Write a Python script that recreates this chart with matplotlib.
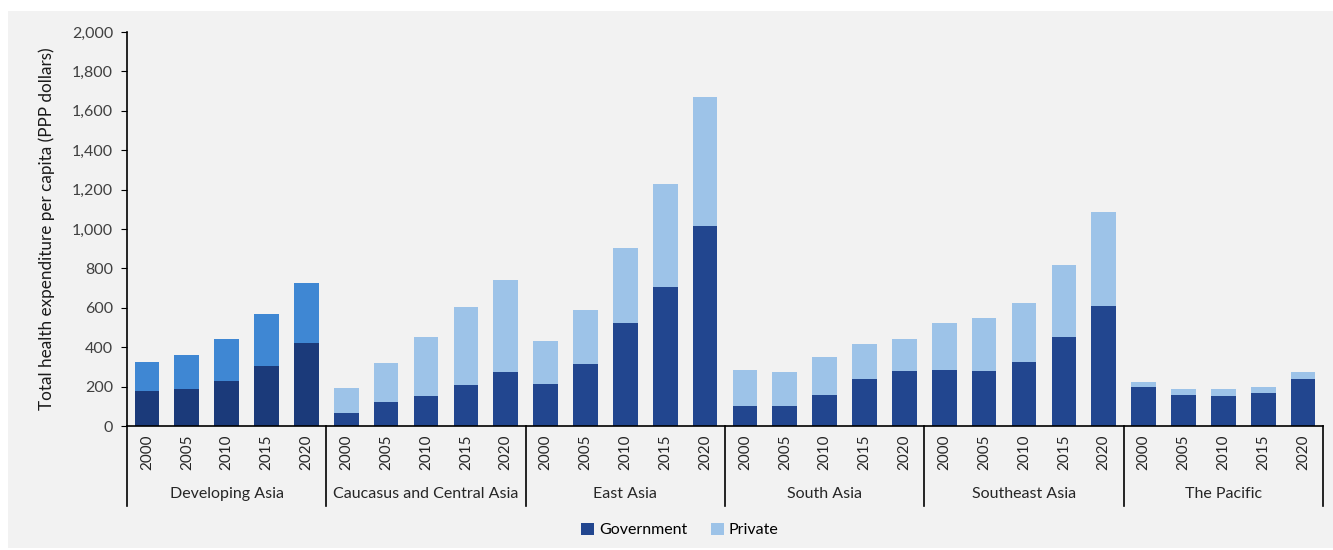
import matplotlib.pyplot as plt
from matplotlib.patches import Patch, Rectangle

plt.rcParams['font.family'] = ['Lato', 'DejaVu Sans']

regions = ['Developing Asia', 'Caucasus and Central Asia', 'East Asia',
           'South Asia', 'Southeast Asia', 'The Pacific']
years = ['2000', '2005', '2010', '2015', '2020']

# government and total spending per capita
government = [
    [179, 188, 230, 303, 420],
    [68, 120, 152, 207, 276],
    [213, 316, 524, 707, 1015],
    [102, 102, 159, 239, 279],
    [284, 279, 323, 450, 611],
    [200, 157, 154, 166, 239],
]
total = [
    [323, 359, 442, 567, 727],
    [195, 321, 453, 603, 741],
    [433, 587, 902, 1228, 1672],
    [284, 276, 352, 416, 440],
    [521, 550, 623, 817, 1085],
    [222, 188, 188, 200, 274],
]

gov_col = '#22468f'
priv_col = '#9dc3e8'
dev_gov_col = '#1b3a7a'
dev_priv_col = '#3f87d3'

fig = plt.figure(figsize=(13.33, 5.5), dpi=100)
fig.patch.set_facecolor('white')
fig.patches.append(Rectangle((8 / 1333, 2 / 550), 1 - 8 / 1333, 537 / 550,
                             transform=fig.transFigure, facecolor='#f2f2f2',
                             edgecolor='none', zorder=-10))
ax = fig.add_axes([127 / 1333, 1 - 426 / 550, 1196 / 1333, 394 / 550])
ax.set_facecolor('none')

xs = []
labels = []
k = 0
for g, reg in enumerate(regions):
    for j, yr in enumerate(years):
        gv = government[g][j]
        pv = total[g][j] - gv
        gc = dev_gov_col if g == 0 else gov_col
        pc = dev_priv_col if g == 0 else priv_col
        ax.bar(k, gv, width=0.62, color=gc)
        ax.bar(k, pv, bottom=gv, width=0.62, color=pc)
        xs.append(k)
        labels.append(yr)
        k += 1

ax.set_xlim(-0.5, k - 0.5)
ax.set_ylim(0, 2000)
ax.set_yticks(range(0, 2001, 200))
ax.set_yticklabels(['{:,}'.format(v) for v in range(0, 2001, 200)])
ax.set_xticks(xs)
ax.set_xticklabels(labels, rotation=90)
ax.tick_params(axis='x', length=0, pad=6, labelsize=11, labelcolor='#262626')
ax.tick_params(axis='y', length=4, direction='out', labelsize=11.5, labelcolor='#404040', pad=6)

for s in ['top', 'right']:
    ax.spines[s].set_visible(False)
ax.spines['left'].set_color('black')
ax.spines['bottom'].set_color('black')
ax.spines['left'].set_linewidth(1.2)
ax.spines['bottom'].set_linewidth(1.2)

# group separators and region names under the years
sep_len = 80 / 394
for g in range(len(regions) + 1):
    x = g * 5 - 0.5
    ax.plot([x, x], [0, -sep_len * 2000], color='black', lw=1.2, clip_on=False)
for g, reg in enumerate(regions):
    ax.text(g * 5 + 2, -68 / 394 * 2000, reg, ha='center', va='center',
            fontsize=11.5, color='#262626', clip_on=False)

ax.set_ylabel('Total health expenditure per capita (PPP dollars)', fontsize=12.3,
              color='#1a1a1a', labelpad=12)

handles = [Patch(facecolor=gov_col, label='Government'),
           Patch(facecolor=priv_col, label='Private')]
fig.legend(handles=handles, loc='center', bbox_to_anchor=(680 / 1333, 1 - 530 / 550),
           ncol=2, frameon=False, fontsize=11.5, handlelength=0.8, handleheight=0.8,
           handletextpad=0.3, columnspacing=1.5)

fig.savefig('out.png', dpi=100, facecolor=fig.get_facecolor())
